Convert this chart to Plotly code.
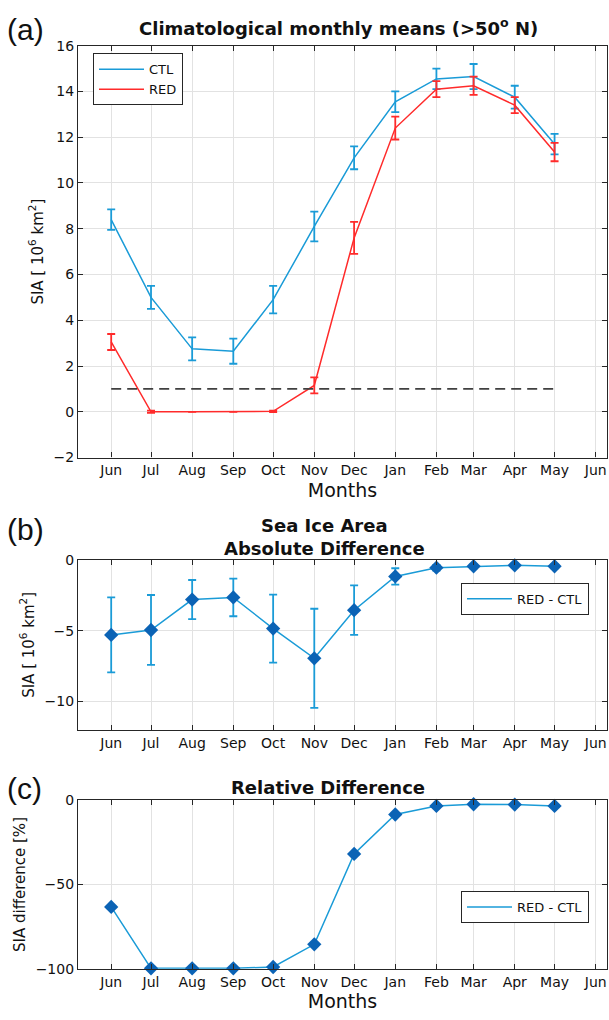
import plotly.graph_objects as go

# ---------------- data ----------------
months = ["Jun", "Jul", "Aug", "Sep", "Oct", "Nov", "Dec", "Jan", "Feb", "Mar", "Apr", "May"]
month_dates = ["2001-06-01", "2001-07-01", "2001-08-01", "2001-09-01", "2001-10-01", "2001-11-01",
               "2001-12-01", "2002-01-01", "2002-02-01", "2002-03-01", "2002-04-01", "2002-05-01"]
tick_dates = month_dates + ["2002-06-01"]
tick_labels = months + ["Jun"]

ctl = [8.4, 5.0, 2.75, 2.65, 4.9, 8.1, 11.1, 13.55, 14.55, 14.65, 13.75, 11.7]
ctl_err = [0.45, 0.5, 0.5, 0.55, 0.6, 0.65, 0.5, 0.45, 0.45, 0.55, 0.5, 0.45]
red = [3.05, 0.0, 0.0, 0.0, 0.02, 1.15, 7.6, 12.4, 14.1, 14.25, 13.4, 11.35]
red_err = [0.35, 0.05, 0.0, 0.0, 0.03, 0.35, 0.7, 0.5, 0.35, 0.4, 0.35, 0.4]
threshold = 1.0

abs_diff = [-5.3, -4.95, -2.8, -2.65, -4.85, -6.95, -3.55, -1.17, -0.55, -0.45, -0.38, -0.45]
abs_diff_err = [2.65, 2.47, 1.38, 1.33, 2.4, 3.5, 1.75, 0.58, 0.2, 0.15, 0.15, 0.15]

rel_diff = [-63.3, -99.8, -99.8, -99.8, -99.0, -85.5, -31.8, -8.4, -3.3, -2.3, -2.5, -3.3]

# ---------------- styles ----------------
BLUE = "#1a9bd7"
RED = "#ff2b2b"
MARK = "#0b63b5"
AXC = "#262626"
GRID = "#e2e2e2"
FONT = "DejaVu Sans"

W, H = 609.0, 1020.0
ML, MR = 78, 2
PW = W - ML - MR

def px_x(px):
    return (px - ML) / PW

def px_y(px):
    return 1 - px / H

fig = go.Figure()

# Panel (a)
fig.add_trace(go.Scatter(
    x=month_dates, y=ctl, name="CTL", mode="lines",
    line=dict(color=BLUE, width=1.5),
    error_y=dict(type="data", array=ctl_err, visible=True, color=BLUE, thickness=1.8, width=4),
    xaxis="x", yaxis="y", legend="legend", cliponaxis=False))
fig.add_trace(go.Scatter(
    x=month_dates, y=red, name="RED", mode="lines",
    line=dict(color=RED, width=1.5),
    error_y=dict(type="data", array=red_err, visible=True, color=RED, thickness=1.8, width=4),
    xaxis="x", yaxis="y", legend="legend", cliponaxis=False))
fig.add_trace(go.Scatter(
    x=[month_dates[0], month_dates[-1]], y=[threshold, threshold], mode="lines",
    line=dict(color="#404040", width=1.8, dash="10px,6px"), showlegend=False,
    xaxis="x", yaxis="y"))

# Panel (b)
fig.add_trace(go.Scatter(
    x=month_dates, y=abs_diff, mode="lines+markers", showlegend=False,
    line=dict(color=BLUE, width=1.5),
    marker=dict(symbol="diamond", size=11, color=MARK),
    error_y=dict(type="data", array=abs_diff_err, visible=True, color=BLUE, thickness=1.8, width=4),
    xaxis="x2", yaxis="y2", cliponaxis=False))
fig.add_trace(go.Scatter(
    x=[None], y=[None], mode="lines", name="RED - CTL",
    line=dict(color=BLUE, width=1.5), xaxis="x2", yaxis="y2", legend="legend2"))

# Panel (c)
fig.add_trace(go.Scatter(
    x=month_dates, y=rel_diff, mode="lines+markers", showlegend=False,
    line=dict(color=BLUE, width=1.5),
    marker=dict(symbol="diamond", size=11, color=MARK),
    xaxis="x3", yaxis="y3", cliponaxis=False))
fig.add_trace(go.Scatter(
    x=[None], y=[None], mode="lines", name="RED - CTL",
    line=dict(color=BLUE, width=1.5), xaxis="x3", yaxis="y3", legend="legend3"))

def dom(top_px, bot_px):
    return [1 - bot_px / H, 1 - top_px / H]

TICKF = dict(family=FONT, size=14, color="#111")
xcommon = dict(
    type="date", range=["2001-05-07", "2002-06-09 12:00"],
    tickmode="array", tickvals=tick_dates, ticktext=tick_labels,
    ticks="inside", ticklen=5, tickcolor=AXC, mirror="allticks",
    showline=True, linecolor=AXC, linewidth=1.2,
    showgrid=True, gridcolor=GRID, gridwidth=1, zeroline=False,
    tickfont=TICKF, domain=[0, 1],
)
ycommon = dict(
    ticks="inside", ticklen=5, tickcolor=AXC, mirror="allticks",
    showline=True, linecolor=AXC, linewidth=1.2,
    showgrid=True, gridcolor=GRID, gridwidth=1, zeroline=False,
    tickfont=TICKF,
)
ytitle_font = dict(family=FONT, size=15, color="#111")
months_font = dict(family=FONT, size=19, color="#111")
leg_common = dict(bgcolor="white", bordercolor=AXC, borderwidth=1,
                  font=dict(family=FONT, size=13, color="#111"))

fig.update_layout(
    width=int(W), height=int(H),
    margin=dict(l=ML, r=MR, t=0, b=0),
    paper_bgcolor="white", plot_bgcolor="white",
    font=dict(family=FONT, color="#111"),
    xaxis=dict(xcommon, anchor="y", title=dict(text="Months", font=months_font, standoff=6)),
    yaxis=dict(ycommon, anchor="x", domain=dom(38.3, 456.7), range=[-2, 16],
               tickvals=list(range(-2, 17, 2)),
               title=dict(text="SIA [ 10<sup>6</sup> km<sup>2</sup>]", font=ytitle_font, standoff=6)),
    xaxis2=dict(xcommon, anchor="y2"),
    yaxis2=dict(ycommon, anchor="x2", domain=dom(560.7, 733.3), range=[-12, 0],
                tickvals=[-10, -5, 0],
                title=dict(text="SIA [ 10<sup>6</sup> km<sup>2</sup>]", font=ytitle_font, standoff=6)),
    xaxis3=dict(xcommon, anchor="y3", title=dict(text="Months", font=months_font, standoff=2)),
    yaxis3=dict(ycommon, anchor="x3", domain=dom(805, 976), range=[-100, 0],
                tickvals=[-100, -50, 0],
                title=dict(text="SIA difference [%]", font=ytitle_font, standoff=6)),
    legend=dict(leg_common, x=px_x(93), y=px_y(46), xanchor="left", yanchor="top",
                itemwidth=45),
    legend2=dict(leg_common, x=px_x(589), y=px_y(584), xanchor="right", yanchor="top",
                 itemwidth=45),
    legend3=dict(leg_common, x=px_x(589), y=px_y(897), xanchor="right", yanchor="top",
                 itemwidth=45),
    showlegend=True,
)

panel_font = dict(family="Liberation Sans", size=30, color="#111")
bold_font = dict(family=FONT, size=18, color="#111")
for text, ypx in [("(a)", 22), ("(b)", 530), ("(c)", 793)]:
    fig.add_annotation(xref="paper", yref="paper", x=px_x(5), y=px_y(ypx), text=text,
                       showarrow=False, xanchor="left", yanchor="middle", font=panel_font)
titles = [
    ("<b>Climatological monthly means (>50<sup>o</sup> N)</b>", 338, 19),
    ("<b>Sea Ice Area</b><br><b>Absolute Difference</b>", 324, 537),
    ("<b>Relative Difference</b>", 328, 792),
]
for t, xpx, ypx in titles:
    fig.add_annotation(xref="paper", yref="paper", x=px_x(xpx), y=px_y(ypx), text=t,
                       showarrow=False, xanchor="center", yanchor="middle", font=bold_font)

fig.write_html("out.html", config={"displayModeBar": False},
               post_script="document.body.style.margin='0';document.body.style.overflow='hidden';")
